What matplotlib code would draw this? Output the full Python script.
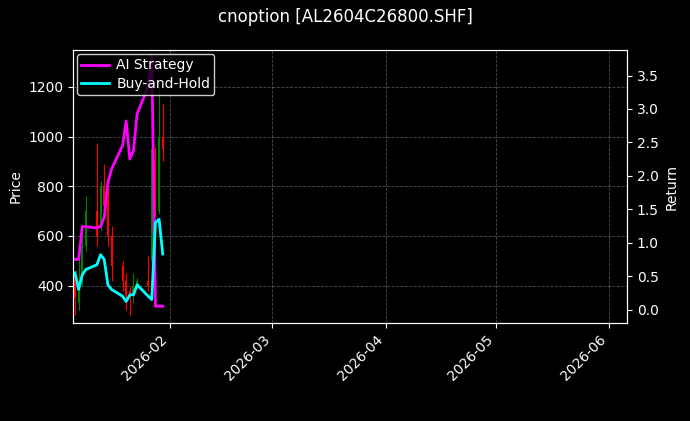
import matplotlib
matplotlib.use("Agg")
import matplotlib.pyplot as plt
import matplotlib.dates as mdates
import pandas as pd
import numpy as np

dates = pd.to_datetime(["2026-01-06","2026-01-07","2026-01-08","2026-01-09","2026-01-12","2026-01-13",
    "2026-01-14","2026-01-15","2026-01-16","2026-01-19","2026-01-20","2026-01-21","2026-01-22",
    "2026-01-23","2026-01-26","2026-01-27","2026-01-28","2026-01-29","2026-01-30"])
opens  = [450, 330, 420, 560, 700, 650, 800, 750, 600, 480, 420, 380, 360, 400, 420, 500, 900, 700, 1000]
closes = [350, 420, 560, 700, 600, 800, 720, 600, 480, 420, 360, 350, 400, 420, 400, 950, 700, 1000, 950]
highs  = [460, 560, 650, 760, 975, 820, 890, 800, 640, 500, 450, 400, 450, 430, 520, 1270, 960, 1200, 1130]
lows   = [280, 300, 400, 540, 560, 620, 700, 560, 420, 380, 300, 280, 330, 390, 380, 480, 680, 690, 900]
strategy = [0.75, 0.75, 1.24, 1.24, 1.22, 1.24, 1.38, 1.9, 2.1, 2.45, 2.82, 2.25, 2.38, 2.93, 3.33, 3.8, 0.05, 0.05, 0.05]
buyhold  = [0.55, 0.3, 0.52, 0.6, 0.67, 0.82, 0.75, 0.37, 0.3, 0.2, 0.12, 0.22, 0.22, 0.37, 0.2, 0.15, 1.3, 1.35, 0.83]

plt.style.use("dark_background")
fig, ax = plt.subplots(figsize=(6.9, 4.21), dpi=100)
fig.patch.set_facecolor("black")
ax.set_facecolor("black")
for d, o, c, h, l in zip(dates, opens, closes, highs, lows):
    col = "green" if c >= o else "red"
    ax.vlines(d, l, h, color=col, linewidth=0.8)
    ax.vlines(d, min(o, c), max(o, c), color=col, linewidth=1.5)
ax.set_ylabel("Price")
ax.set_ylim(240, 1348)
ax.set_ylim(337 - 100, 1348)
ax.set_ylim(250, 1348)
ax.set_xlim(pd.Timestamp("2026-01-05 12:00"), pd.Timestamp("2026-06-06"))
ax.grid(True, linestyle="--", color="gray", alpha=0.6, linewidth=0.6)
ax.xaxis.set_major_locator(mdates.MonthLocator())
ax.xaxis.set_major_formatter(mdates.DateFormatter("%Y-%m"))
plt.setp(ax.get_xticklabels(), rotation=45, ha="right")

ax2 = ax.twinx()
ax2.plot(dates, strategy, color="magenta", linewidth=2, label="AI Strategy")
ax2.plot(dates, buyhold, color="cyan", linewidth=2, label="Buy-and-Hold")
ax2.set_ylim(-0.2, 3.88)
ax2.set_ylabel("Return")
ax2.legend(loc="upper left", facecolor="black", edgecolor="white",
           borderaxespad=0.3, handletextpad=0.5, borderpad=0.3, labelspacing=0.3)
fig.suptitle("cnoption [AL2604C26800.SHF]")
fig.subplots_adjust(left=0.106, right=0.909, top=0.881, bottom=0.233)
fig.savefig("out.png", dpi=100)
